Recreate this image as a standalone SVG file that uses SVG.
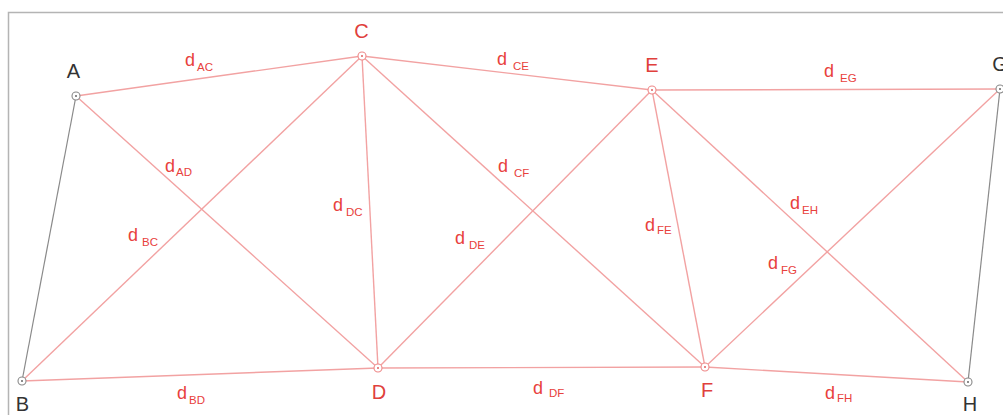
<svg xmlns="http://www.w3.org/2000/svg" width="1003" height="415" viewBox="0 0 1003 415">
<style>
.red{stroke:#f2a2a2;stroke-width:1.4;fill:none}
.gray{stroke:#8a8a8a;stroke-width:1.2;fill:none}
.lbl{font-family:"Liberation Sans",Arial,sans-serif;font-size:18px;fill:#e8413c}
.sub{font-size:11.5px}
.nl{font-family:"Liberation Sans",Arial,sans-serif;font-size:20px;text-anchor:middle}
.nk{fill:#333}
.nr{fill:#e0403c}
.cg{fill:#fff;stroke:#888;stroke-width:1.1}
.cr{fill:#fff;stroke:#ee8888;stroke-width:1.1}
.dg{fill:#666}
.dr{fill:#e06060}
</style>
<rect x="0" y="0" width="1003" height="415" fill="#fff"/>
<rect x="8.5" y="12.5" width="1010" height="420" fill="none" stroke="#b4b4b4" stroke-width="1.5"/>
<g id="connectors">
<line class="gray" x1="76" y1="96" x2="22" y2="381"/>
<line class="gray" x1="1000" y1="89" x2="968" y2="382"/>
<line class="red" x1="76" y1="96" x2="362" y2="56"/>
<line class="red" x1="76" y1="96" x2="378" y2="368"/>
<line class="red" x1="22" y1="381" x2="362" y2="56"/>
<line class="red" x1="22" y1="381" x2="378" y2="368"/>
<line class="red" x1="362" y1="56" x2="378" y2="368"/>
<line class="red" x1="362" y1="56" x2="652" y2="90"/>
<line class="red" x1="362" y1="56" x2="705" y2="367"/>
<line class="red" x1="378" y1="368" x2="652" y2="90"/>
<line class="red" x1="378" y1="368" x2="705" y2="367"/>
<line class="red" x1="652" y1="90" x2="705" y2="367"/>
<line class="red" x1="652" y1="90" x2="1000" y2="89"/>
<line class="red" x1="652" y1="90" x2="968" y2="382"/>
<line class="red" x1="705" y1="367" x2="1000" y2="89"/>
<line class="red" x1="705" y1="367" x2="968" y2="382"/>
</g>
<g id="edge-labels">
<text class="lbl" x="185" y="66">d<tspan class="sub" dx="2" dy="5">AC</tspan></text>
<text class="lbl" x="497" y="65">d<tspan class="sub" dx="6" dy="5" font-size="10">CE</tspan></text>
<text class="lbl" x="824" y="77">d<tspan class="sub" dx="6" dy="5">EG</tspan></text>
<text class="lbl" x="165" y="172">d<tspan class="sub" dx="1" dy="4">AD</tspan></text>
<text class="lbl" x="128" y="241">d<tspan class="sub" dx="4" dy="5">BC</tspan></text>
<text class="lbl" x="333" y="211">d<tspan class="sub" dx="3" dy="5">DC</tspan></text>
<text class="lbl" x="498" y="172">d<tspan class="sub" dx="6" dy="5">CF</tspan></text>
<text class="lbl" x="455" y="244">d<tspan class="sub" dx="4" dy="5">DE</tspan></text>
<text class="lbl" x="645" y="231">d<tspan class="sub" dx="2" dy="3">FE</tspan></text>
<text class="lbl" x="790" y="209">d<tspan class="sub" dx="2" dy="5">EH</tspan></text>
<text class="lbl" x="768" y="269">d<tspan class="sub" dx="3" dy="5">FG</tspan></text>
<text class="lbl" x="177" y="399">d<tspan class="sub" dx="2" dy="5">BD</tspan></text>
<text class="lbl" x="533" y="394">d<tspan class="sub" dx="6" dy="3">DF</tspan></text>
<text class="lbl" x="825" y="399">d<tspan class="sub" dx="2" dy="3">FH</tspan></text>
</g>
<g id="node-A"><circle class="cg" cx="76" cy="96" r="4"/><circle class="dg" cx="76" cy="96" r="1"/><text class="nl nk" x="73.5" y="78">A</text></g>
<g id="node-B"><circle class="cg" cx="22" cy="381" r="4"/><circle class="dg" cx="22" cy="381" r="1"/><text class="nl nk" x="22.5" y="411">B</text></g>
<g id="node-C"><circle class="cr" cx="362" cy="56" r="4"/><circle class="dr" cx="362" cy="56" r="1"/><text class="nl nr" x="361.5" y="38">C</text></g>
<g id="node-D"><circle class="cr" cx="378" cy="368" r="4"/><circle class="dr" cx="378" cy="368" r="1"/><text class="nl nr" x="379" y="399">D</text></g>
<g id="node-E"><circle class="cr" cx="652" cy="90" r="4"/><circle class="dr" cx="652" cy="90" r="1"/><text class="nl nr" x="652" y="72">E</text></g>
<g id="node-F"><circle class="cr" cx="705" cy="367" r="4"/><circle class="dr" cx="705" cy="367" r="1"/><text class="nl nr" x="707" y="397">F</text></g>
<g id="node-G"><circle class="cg" cx="1000" cy="89" r="4"/><circle class="dg" cx="1000" cy="89" r="1"/><text class="nl nk" x="1000" y="71">G</text></g>
<g id="node-H"><circle class="cg" cx="968" cy="382" r="4"/><circle class="dg" cx="968" cy="382" r="1"/><text class="nl nk" x="970" y="411">H</text></g>
</svg>
